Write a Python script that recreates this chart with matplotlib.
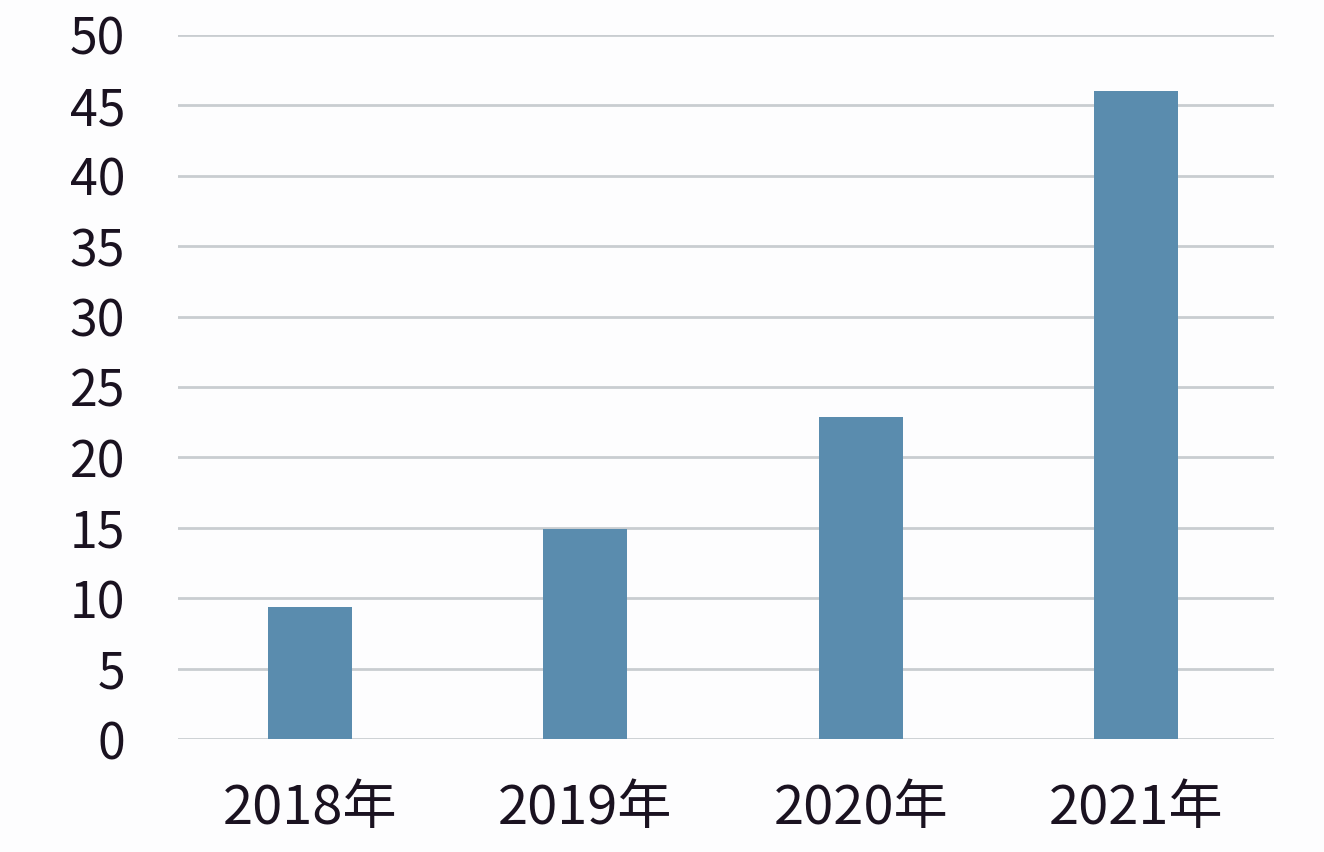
import matplotlib
matplotlib.use("Agg")
import matplotlib.pyplot as plt

categories = ["2018年", "2019年", "2020年", "2021年"]
values = [9.4, 14.9, 22.9, 46.0]
yticks = [0, 5, 10, 15, 20, 25, 30, 35, 40, 45, 50]

plt.rcParams['font.family'] = ['Noto Sans CJK SC', 'DejaVu Sans']

fig = plt.figure(figsize=(13.24, 8.52), dpi=100)
fig.patch.set_facecolor('#fdfdfe')
ax = fig.add_axes([0.1344, 0.1326, 0.8276, 0.8264])
ax.set_facecolor('#fdfdfe')

x = list(range(len(categories)))
ax.bar(x, values, width=0.305, color='#5a8cae', zorder=3)

ax.set_xlim(-0.48, 3.50)
ax.set_ylim(0, 50)
ax.set_yticks(yticks)
ax.set_yticklabels([str(t) for t in yticks])
ax.set_xticks(x)
ax.set_xticklabels(categories)
ax.grid(axis='y', color='#c9cdd1', linewidth=2, zorder=0)
ax.set_axisbelow(True)
for s in ax.spines.values():
    s.set_visible(False)
ax.tick_params(axis='both', length=0, colors='#1a1220')
ax.tick_params(axis='y', pad=38, labelsize=36)
ax.tick_params(axis='x', pad=30, labelsize=39)
for lbl in ax.get_xticklabels() + ax.get_yticklabels():
    lbl.set_fontweight('medium')

fig.savefig("out.png", dpi=100, facecolor=fig.get_facecolor())
